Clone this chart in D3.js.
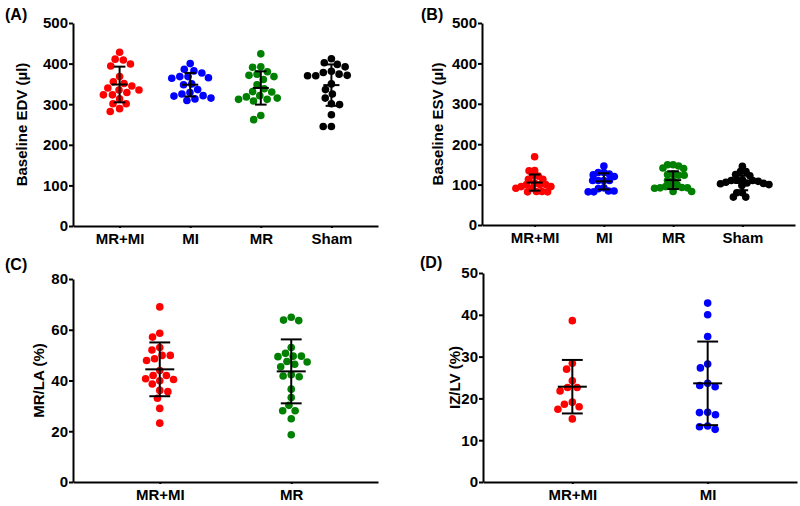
<!DOCTYPE html>
<html lang="en">
<head>
  <meta charset="UTF-8">
  <title>Baseline volumes and MR / IZ ratios</title>
  <style>
    body {
      margin: 0;
      padding: 0;
      background: #fff;
    }

    svg {
      display: block;
      font-family: "Liberation Sans", Arial, sans-serif;
      font-weight: bold;
    }

    .axis path,
    .axis line {
      stroke: #000;
      stroke-width: 2px;
    }

    .axis text {
      font-size: 15px;
      font-weight: bold;
      fill: #000;
      font-family: "Liberation Sans", Arial, sans-serif;
    }

    .bar {
      stroke: #000;
      stroke-width: 2px;
    }
  </style>
</head>
<body>
  <svg width="800" height="506"></svg>

  <script src="https://d3js.org/d3.v7.min.js"></script>
  <script>
    // values
    const groupsAll = ["MR+MI", "MI", "MR", "Sham"];
    const groupsC = ["MR+MI", "MR"];
    const groupsD = ["MR+MI", "MI"];

    const edvMRMI = [428, 411, 409, 399, 394, 368, 355, 351, 345, 340, 335, 335, 329, 323, 323, 313, 301, 301, 289, 282];
    const edvMI = [400, 386, 382, 377, 368, 368, 365, 364, 350, 348, 336, 329, 325, 321, 320, 315, 313, 309];
    const edvMR = [424, 392, 391, 380, 374, 371, 368, 361, 348, 338, 331, 330, 321, 318, 315, 312, 312, 308, 272, 262];
    const edvSham = [412, 402, 398, 392, 381, 378, 374, 371, 370, 370, 350, 336, 325, 315, 301, 299, 274, 245, 245];
    const edvMean = [348.5, 348, 340, 347];
    const edvSD = [44, 29, 41, 51];

    const esvMRMI = [169, 135, 134, 122, 121, 113, 113, 103, 100, 100, 100, 95, 95, 91, 91, 83, 83, 82, 82];
    const esvMI = [146, 130, 130, 126, 124, 120, 110, 110, 110, 110, 92, 90, 84, 84, 82, 82];
    const esvMR = [149, 149, 146, 141, 140, 126, 125, 123, 123, 110, 110, 100, 97, 95, 93, 92, 92, 91, 83, 83];
    const esvSham = [145, 132, 132, 125, 122, 112, 111, 110, 110, 108, 106, 104, 103, 102, 100, 98, 80, 80, 69, 69];
    const esvMean = [105, 108, 111, 104];
    const esvSD = [20, 20, 22, 18];

    const mrlaMRMI = [69, 58.6, 57.1, 53, 52, 49.9, 49.9, 48.6, 47.9, 43.9, 42, 42, 40.7, 40.4, 39.9, 38.6, 36.1, 35.6, 33, 29, 23.2];
    const mrlaMR = [64.9, 63.8, 63.6, 53, 50.7, 49.6, 49.6, 49.4, 47.5, 47.3, 46.4, 45.4, 42.3, 41.8, 41.5, 36.6, 33.3, 30.2, 28.1, 28.1, 24.9, 18.6];
    const mrlaMean = [44.4, 43.6];
    const mrlaSD = [10.6, 12.6];

    const izMRMI = [38.6, 28.4, 27, 24.2, 22.6, 22.6, 21.8, 19.1, 18.6, 18, 17.4, 15.1];
    const izMI = [42.8, 40, 34.8, 28.2, 27.3, 23.6, 23.1, 22.8, 16.7, 16.6, 16.1, 13.4, 13.2, 12.6];
    const izMean = [22.8, 23.6];
    const izSD = [6.4, 10];

    const colorOf = { "MR+MI": "#ff0000", "MI": "#0000ff", "MR": "#008000", "Sham": "#000000" };

    const panels = [
      { tag: "(A)", title: "Baseline EDV (\u00b5l)", groups: groupsAll, values: [edvMRMI, edvMI, edvMR, edvSham],
        mean: edvMean, sd: edvSD, yMax: 500, yStep: 100, pad: 0.66, gap: 8.2,
        left: 73, right: 378, top: 23, bottom: 226, tagX: 5, tagY: 20, titleX: 21 },
      { tag: "(B)", title: "Baseline ESV (\u00b5l)", groups: groupsAll, values: [esvMRMI, esvMI, esvMR, esvSham],
        mean: esvMean, sd: esvSD, yMax: 500, yStep: 100, pad: 0.76, gap: 5.6,
        left: 482, right: 795, top: 23, bottom: 225, tagX: 421, tagY: 20, titleX: 437 },
      { tag: "(C)", title: "MR/LA (%)", groups: groupsC, values: [mrlaMRMI, mrlaMR],
        mean: mrlaMean, sd: mrlaSD, yMax: 80, yStep: 20, pad: 0.66, gap: 8.2,
        left: 73, right: 378, top: 279, bottom: 482, tagX: 5, tagY: 270, titleX: 38 },
      { tag: "(D)", title: "IZ/LV (%)", groups: groupsD, values: [izMRMI, izMI],
        mean: izMean, sd: izSD, yMax: 50, yStep: 10, pad: 0.66, gap: 8.2,
        left: 483, right: 797, top: 273, bottom: 482, tagX: 420, tagY: 268, titleX: 454 }
    ];

    const svg = d3.select("svg");
    const r = 3.8;

    // simple beeswarm: place each dot as close to the centre line as it fits
    function swarm(vals, y, dMin) {
      const placed = [];
      vals.slice().sort((a, b) => b - a).forEach(v => {
        const py = y(v);
        const near = placed.filter(p => Math.abs(p.y - py) < dMin);
        const cands = [0];
        near.forEach(p => {
          const dx = Math.sqrt(dMin * dMin - (p.y - py) * (p.y - py));
          cands.push(p.x + dx, p.x - dx);
        });
        cands.sort((a, b) => Math.abs(a) - Math.abs(b) || a - b);
        const x = cands.find(c => near.every(p => Math.hypot(p.x - c, p.y - py) >= dMin - 0.01));
        placed.push({ x: x, y: py, v: v });
      });
      return placed;
    }

    panels.forEach(p => {
      const g = svg.append("g");

      const y = d3.scaleLinear().domain([0, p.yMax]).range([p.bottom, p.top]);
      const x = d3.scalePoint().domain(p.groups).range([p.left, p.right]).padding(p.pad);
      const step = x.step();

      g.append("g")
        .attr("class", "axis")
        .attr("transform", `translate(${p.left},0)`)
        .call(d3.axisLeft(y).tickValues(d3.range(0, p.yMax + 1, p.yStep)).tickSize(4).tickSizeOuter(0).tickPadding(1));

      g.append("g")
        .attr("class", "axis")
        .attr("transform", `translate(0,${p.bottom})`)
        .call(d3.axisBottom(x).tickSize(2).tickSizeOuter(0).tickPadding(5));

      g.append("text")
        .attr("x", p.tagX)
        .attr("y", p.tagY)
        .attr("font-size", 16)
        .text(p.tag);

      g.append("text")
        .attr("transform", `translate(${p.titleX},${(p.top + p.bottom) / 2}) rotate(-90)`)
        .attr("text-anchor", "middle")
        .attr("dominant-baseline", "central")
        .attr("font-size", 15)
        .text(p.title);

      p.groups.forEach((grp, i) => {
        const cx = x(grp);
        const dots = swarm(p.values[i], y, p.gap);

        g.append("g")
          .selectAll("circle")
          .data(dots)
          .join("circle")
          .attr("cx", d => cx + d.x)
          .attr("cy", d => d.y)
          .attr("r", r)
          .attr("fill", colorOf[grp]);

        const m = p.mean[i], s = p.sd[i];
        const meanW = 70 * 0.23 / 2 * (step > 100 ? 1.8 : 1), capW = meanW * 0.72;
        const bar = g.append("g").attr("class", "bar");
        bar.append("line")
          .attr("x1", cx).attr("x2", cx)
          .attr("y1", y(m - s)).attr("y2", y(m + s));
        bar.append("line")
          .attr("x1", cx - meanW).attr("x2", cx + meanW)
          .attr("y1", y(m)).attr("y2", y(m));
        [m - s, m + s].forEach(v => {
          bar.append("line")
            .attr("x1", cx - capW).attr("x2", cx + capW)
            .attr("y1", y(v)).attr("y2", y(v));
        });
      });
    });
  </script>
</body>
</html>
